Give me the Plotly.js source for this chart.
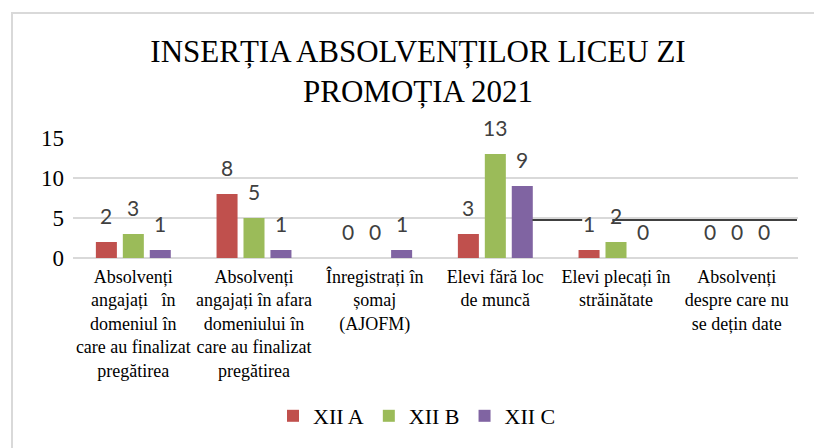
<!DOCTYPE html>
<html>
<head>
<meta charset="utf-8">
<script src="https://cdn.plot.ly/plotly-3.0.1.min.js"></script>
<style>
  html, body { margin: 0; padding: 0; background: #fff; overflow: hidden; }
  #chart { width: 814px; height: 448px; }
  /* chart-area frame, runs off the right / bottom edge like in the source */
  #frame { position: absolute; left: 11px; top: 12px; width: 900px; height: 600px;
           border: 2px solid #D9D9D9; pointer-events: none; }
</style>
</head>
<body>
<div id="chart"></div>
<div id="frame"></div>
<script>
// categories and values
const categories = [
  'Absolvenți<br>angajați   în<br>domeniul în<br>care au finalizat<br>pregătirea',
  'Absolvenți<br>angajați în afara<br>domeniului în<br>care au finalizat<br>pregătirea',
  'Înregistrați în<br>șomaj<br>(AJOFM)',
  'Elevi fără loc<br>de muncă',
  'Elevi plecați în<br>străinătate',
  'Absolvenți<br>despre care nu<br>se dețin date'
];
const seriesNames = ['XII A', 'XII B', 'XII C'];
const xiiA = [2, 8, 0, 3, 1, 0];
const xiiB = [3, 5, 0, 13, 2, 0];
const xiiC = [1, 1, 1, 9, 0, 0];
const yTicks = [0, 5, 10, 15];

const colors = ['#C0504D', '#9BBB59', '#8064A2'];
const serif = "'Times New Roman', 'Liberation Serif', serif";

const seriesValues = [xiiA, xiiB, xiiC];

const traces = seriesValues.map((vals, i) => ({
  type: 'bar',
  name: seriesNames[i],
  x: categories,
  y: vals,
  marker: { color: colors[i] },
  hoverinfo: 'x+y'
}));

// data labels as annotations so they can sit a bit higher above the bars
const slot = 27; // px between neighbouring bars in a group
const labels = [];
seriesValues.forEach((vals, i) => {
  vals.forEach((v, j) => {
    labels.push({
      x: categories[j], y: v, xref: 'x', yref: 'y',
      text: String(v), showarrow: false,
      xshift: (i - 1) * slot, yshift: 12, yanchor: 'bottom',
      font: { family: 'Lato, Open Sans, sans-serif', size: 21, color: '#404040' }
    });
  });
});

const layout = {
  width: 814,
  height: 448,
  paper_bgcolor: '#fff',
  plot_bgcolor: '#fff',
  margin: { l: 73, r: 16, t: 138, b: 190 },
  title: {
    text: 'INSERȚIA ABSOLVENȚILOR LICEU ZI<br>PROMOȚIA 2021',
    font: { family: serif, size: 31, color: '#000' },
    xref: 'container', x: 418 / 814,
    yref: 'container', y: 1 - 62 / 448, yanchor: 'top'
  },
  barmode: 'group',
  bargap: 0.33,
  bargroupgap: 0.22,
  xaxis: {
    type: 'category',
    showgrid: false,
    showline: false,
    ticks: '',
    ticklabelstandoff: 6,
    tickfont: { family: serif, size: 18, color: '#000' },
    tickangle: 0,
    fixedrange: true
  },
  yaxis: {
    range: [0, 15],
    tickvals: yTicks,
    showgrid: true,
    gridcolor: '#D9D9D9',
    gridwidth: 1.5,
    zeroline: true,
    zerolinecolor: '#D9D9D9',
    zerolinewidth: 1.5,
    showline: false,
    ticks: '',
    ticklabelstandoff: 8,
    tickfont: { family: serif, size: 23, color: '#000' },
    fixedrange: true
  },
  showlegend: true,
  legend: {
    orientation: 'h',
    xref: 'container', x: 417 / 814, xanchor: 'center',
    yref: 'container', y: 1 - 416 / 448, yanchor: 'middle',
    font: { family: serif, size: 22, color: '#000' },
    itemclick: false
  },
  annotations: labels,
  // stray dark rule that sits just under the 5 gridline on the right-hand side
  shapes: [
    { type: 'line', xref: 'x', yref: 'y', x0: 3.307, x1: 3.72, y0: 4.75, y1: 4.75,
      line: { color: '#404040', width: 2 }, layer: 'above' },
    { type: 'line', xref: 'x', yref: 'y', x0: 3.969, x1: 5.5, y0: 4.75, y1: 4.75,
      line: { color: '#404040', width: 2 }, layer: 'above' }
  ]
};

Plotly.newPlot('chart', traces, layout, { displayModeBar: false, staticPlot: true });
</script>
</body>
</html>
